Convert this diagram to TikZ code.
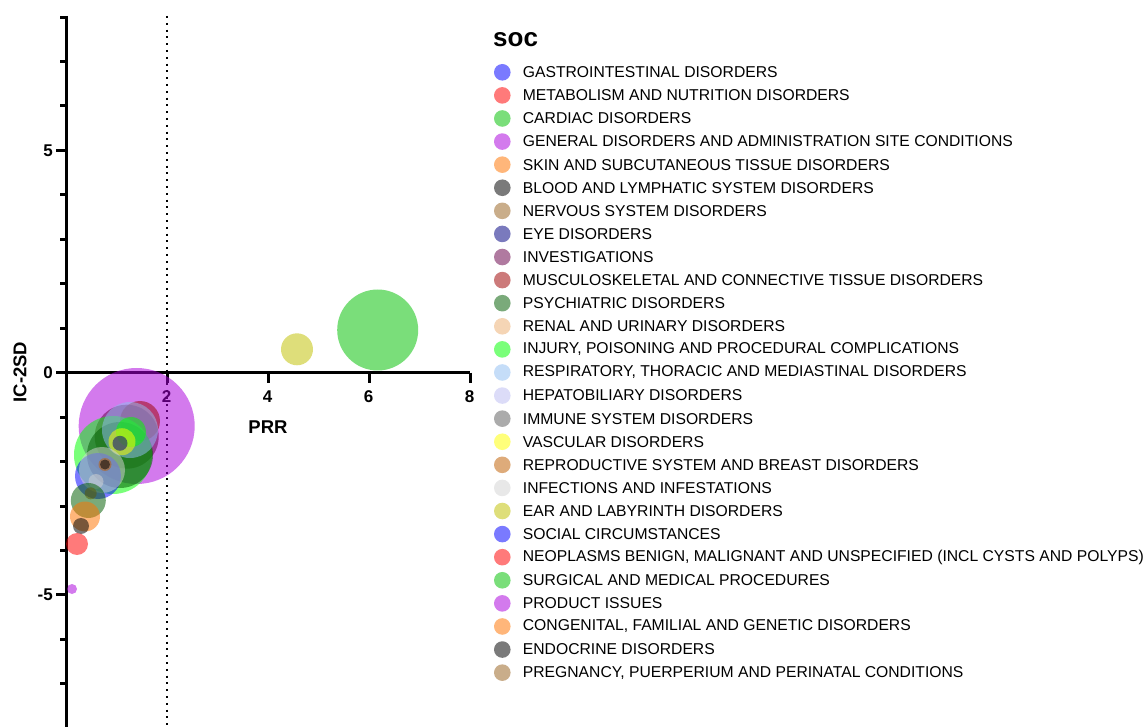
\documentclass[tikz,border=0pt]{standalone}
\usepackage{fontspec}
\setmainfont{Liberation Sans}
\definecolor{cBlue}{RGB}{0,0,255}
\definecolor{cRed}{RGB}{255,0,0}
\definecolor{cGreen}{RGB}{0,192,0}
\definecolor{cPurple}{RGB}{170,0,220}
\definecolor{cOrange}{RGB}{255,116,0}
\definecolor{cBlack}{RGB}{0,0,0}
\definecolor{cTan}{RGB}{151,97,30}
\definecolor{cNavy}{RGB}{0,0,128}
\definecolor{cMauve}{RGB}{103,0,72}
\definecolor{cMaroon}{RGB}{157,0,0}
\definecolor{cDkGreen}{RGB}{0,92,0}
\definecolor{cPeach}{RGB}{236,174,113}
\definecolor{cLime}{RGB}{0,255,0}
\definecolor{cSky}{RGB}{144,190,242}
\definecolor{cLav}{RGB}{188,188,242}
\definecolor{cGray}{RGB}{94,94,94}
\definecolor{cYellow}{RGB}{255,255,0}
\definecolor{cBrown}{RGB}{192,94,0}
\definecolor{cLtGray}{RGB}{211,211,211}
\definecolor{cOlive}{RGB}{192,192,0}
\begin{document}
\begin{tikzpicture}[x=1pt,y=-1pt,
  axisline/.style={line width=3pt,black},
  ticklab/.style={font=\bfseries\fontsize{17}{19}\selectfont,inner sep=0pt},
  axtitle/.style={font=\bfseries\fontsize{18.5}{20}\selectfont,inner sep=0pt},
  bub/.style={circle,fill=#1,fill opacity=0.52,draw=none,inner sep=0pt},
  legtext/.style={anchor=west,inner sep=0pt,font=\fontsize{15.7}{18}\selectfont}]
\useasboundingbox (0,0) rectangle (1144,727);
% dotted reference line
\draw[line width=2pt,dash pattern=on 2pt off 4.8pt] (166.7,16) -- (166.7,727);
% y axis
\draw[axisline] (66,16) -- (66,727);
\foreach \v in {-8,...,8} \draw[axisline] (66,{372.7-44.45*\v}) -- ++(-6,0);
\foreach \v in {-5,5} \draw[axisline] (66,{372.7-44.45*\v}) -- ++(-10,0);
% x axis
\draw[axisline] (56,372.7) -- (470,372.7);
\foreach \v in {2,4,6,8} \draw[axisline] ({66+50.5*\v},372.7) -- ++(0,10);
\node[ticklab] (x2) at (166.7,397) {2};
\node[ticklab] (x4) at (267.7,397) {4};
\node[ticklab] (x6) at (368.7,397) {6};
\node[ticklab] (x8) at (469.5,397) {8};
\node[ticklab,anchor=east] (y5) at (53,150.5) {5};
\node[ticklab,anchor=east] (y0) at (53,372.7) {0};
\node[ticklab,anchor=east] (ym5) at (53,595) {-5};
\node[axtitle] (xlab) at (268,427) {PRR};
\node[axtitle,rotate=90] (ylab) at (20,372) {IC-2SD};
% bubbles
\node[bub=cPurple,minimum size=116pt] (b1) at (136.7,426) {};
\node[bub=cMaroon,minimum size=40pt] (b2) at (140,421) {};
\node[bub=cMauve,minimum size=64pt] (b3) at (126.7,436.7) {};
\node[bub=cLime,minimum size=78pt] (b4) at (113,455) {};
\node[bub=cDkGreen,minimum size=66pt] (b5) at (120,455) {};
\node[bub=cSky,minimum size=56pt] (b6) at (130,430) {};
\node[bub=cLime,minimum size=30pt] (b7) at (131,432) {};
\node[bub=cYellow,minimum size=27pt] (b8) at (122,441.7) {};
\node[bub=cNavy,minimum size=15pt] (b9) at (120,443.3) {};
\node[bub=cBlue,minimum size=46pt] (b10) at (98,476) {};
\node[bub=cLtGray,minimum size=46pt] (b11) at (102,470) {};
\node[bub=cBrown,minimum size=13pt] (b12) at (105,464.5) {};
\node[bub=cBlack,minimum size=10pt] (b13) at (105,464.5) {};
\node[bub=cLtGray,minimum size=15pt] (b14) at (96,481.5) {};
\node[bub=cBrown,minimum size=12pt] (b15) at (90.7,493.3) {};
\node[bub=cDkGreen,minimum size=35pt] (b16) at (88.3,500.5) {};
\node[bub=cOrange,minimum size=30pt] (b17) at (85,516.5) {};
\node[bub=cBlack,minimum size=16pt] (b18) at (81,526) {};
\node[bub=cRed,minimum size=22pt] (b19) at (77,544) {};
\node[bub=cPurple,minimum size=10pt] (b20) at (72,589) {};
\node[bub=cGreen,minimum size=81pt] (b21) at (377.7,330) {};
\node[bub=cOlive,minimum size=32pt] (b22) at (297,349.3) {};
% legend
\node[anchor=base west,inner sep=0pt,font=\bfseries\fontsize{26}{28}\selectfont] (soc) at (493,47) {soc};
\foreach \c/\t [count=\i from 0] in {
 cBlue/{GASTROINTESTINAL DISORDERS},
 cRed/{METABOLISM AND NUTRITION DISORDERS},
 cGreen/{CARDIAC DISORDERS},
 cPurple/{GENERAL DISORDERS AND ADMINISTRATION SITE CONDITIONS},
 cOrange/{SKIN AND SUBCUTANEOUS TISSUE DISORDERS},
 cBlack/{BLOOD AND LYMPHATIC SYSTEM DISORDERS},
 cTan/{NERVOUS SYSTEM DISORDERS},
 cNavy/{EYE DISORDERS},
 cMauve/{INVESTIGATIONS},
 cMaroon/{MUSCULOSKELETAL AND CONNECTIVE TISSUE DISORDERS},
 cDkGreen/{PSYCHIATRIC DISORDERS},
 cPeach/{RENAL AND URINARY DISORDERS},
 cLime/{INJURY, POISONING AND PROCEDURAL COMPLICATIONS},
 cSky/{RESPIRATORY, THORACIC AND MEDIASTINAL DISORDERS},
 cLav/{HEPATOBILIARY DISORDERS},
 cGray/{IMMUNE SYSTEM DISORDERS},
 cYellow/{VASCULAR DISORDERS},
 cBrown/{REPRODUCTIVE SYSTEM AND BREAST DISORDERS},
 cLtGray/{INFECTIONS AND INFESTATIONS},
 cOlive/{EAR AND LABYRINTH DISORDERS},
 cBlue/{SOCIAL CIRCUMSTANCES},
 cRed/{NEOPLASMS BENIGN, MALIGNANT AND UNSPECIFIED (INCL CYSTS AND POLYPS)},
 cGreen/{SURGICAL AND MEDICAL PROCEDURES},
 cPurple/{PRODUCT ISSUES},
 cOrange/{CONGENITAL, FAMILIAL AND GENETIC DISORDERS},
 cBlack/{ENDOCRINE DISORDERS},
 cTan/{PREGNANCY, PUERPERIUM AND PERINATAL CONDITIONS}} {
  \node[bub=\c,minimum size=16.6pt] (lg\i) at (502.3,{72.3+23.09*\i}) {};
  \node[legtext] (lt\i) at (522.7,{72.3+23.09*\i}) {\t};
}
\end{tikzpicture}
\end{document}
